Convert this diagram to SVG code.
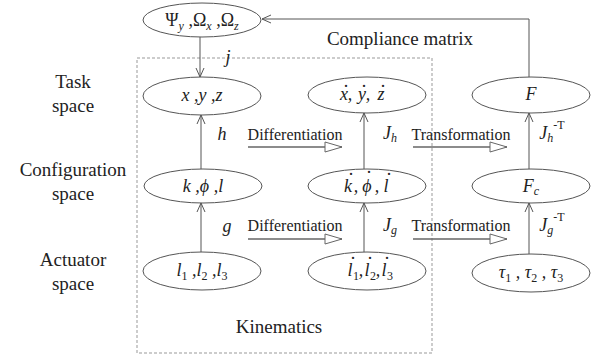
<svg xmlns="http://www.w3.org/2000/svg" width="601" height="358" viewBox="0 0 601 358">
<defs>
<marker id="v" markerUnits="userSpaceOnUse" markerWidth="12" markerHeight="12" viewBox="-1 -6 12 12" refX="9" refY="0" orient="auto">
<path d="M0,-4 L9,0 L0,4" fill="none" stroke="#555" stroke-width="1"/>
</marker>
<marker id="tri" markerUnits="userSpaceOnUse" markerWidth="20" markerHeight="14" viewBox="-1 -7 20 14" refX="17" refY="0" orient="auto">
<path d="M0,-5 L17,0 L0,5 Z" fill="#fff" stroke="#666" stroke-width="1"/>
</marker>
</defs>
<rect x="137" y="58" width="295" height="295" fill="none" stroke="#999" stroke-width="1" stroke-dasharray="3,2"/>
<text font-family="Liberation Serif" font-size="19" fill="#222" text-anchor="middle" x="73" y="88">Task</text>
<text font-family="Liberation Serif" font-size="19" fill="#222" text-anchor="middle" x="73" y="112">space</text>
<text font-family="Liberation Serif" font-size="19" fill="#222" text-anchor="middle" x="73" y="176">Configuration</text>
<text font-family="Liberation Serif" font-size="19" fill="#222" text-anchor="middle" x="73" y="200">space</text>
<text font-family="Liberation Serif" font-size="19" fill="#222" text-anchor="middle" x="73" y="266">Actuator</text>
<text font-family="Liberation Serif" font-size="19" fill="#222" text-anchor="middle" x="73" y="290">space</text>
<text font-family="Liberation Serif" font-size="19" fill="#222" text-anchor="middle" x="279" y="333">Kinematics</text>
<text font-family="Liberation Serif" font-size="19" fill="#222" text-anchor="middle" x="400" y="45">Compliance matrix</text>
<g id="connectors" fill="none" stroke="#555" stroke-width="1">
<line x1="200" y1="37" x2="200" y2="77" marker-end="url(#v)"/>
<line x1="201" y1="169" x2="201" y2="115" marker-end="url(#v)"/>
<line x1="201" y1="252" x2="201" y2="203" marker-end="url(#v)"/>
<line x1="364" y1="169" x2="364" y2="113" marker-end="url(#v)"/>
<line x1="364" y1="252" x2="364" y2="203" marker-end="url(#v)"/>
<line x1="529" y1="169" x2="529" y2="113" marker-end="url(#v)"/>
<line x1="529" y1="254" x2="529" y2="203" marker-end="url(#v)"/>
<polyline points="529,77 529,19 262,19" marker-end="url(#v)"/>
<line x1="248" y1="147" x2="342" y2="147" stroke="#666" stroke-width="1.3" marker-end="url(#tri)"/>
<line x1="413" y1="147" x2="507" y2="147" stroke="#666" stroke-width="1.3" marker-end="url(#tri)"/>
<line x1="248" y1="239" x2="342" y2="239" stroke="#666" stroke-width="1.3" marker-end="url(#tri)"/>
<line x1="413" y1="239" x2="507" y2="239" stroke="#666" stroke-width="1.3" marker-end="url(#tri)"/>
<text font-family="Liberation Serif" font-size="16" fill="#222" stroke="none" text-anchor="middle" x="295" y="140">Differentiation</text>
<text font-family="Liberation Serif" font-size="16" fill="#222" stroke="none" text-anchor="middle" x="461" y="140">Transformation</text>
<text font-family="Liberation Serif" font-size="16" fill="#222" stroke="none" text-anchor="middle" x="295" y="231">Differentiation</text>
<text font-family="Liberation Serif" font-size="16" fill="#222" stroke="none" text-anchor="middle" x="461" y="231">Transformation</text>
<text font-family="Liberation Serif" font-size="18" font-style="italic" fill="#222" stroke="none" text-anchor="middle" x="228" y="63">j</text>
<text font-family="Liberation Serif" font-size="18" font-style="italic" fill="#222" stroke="none" text-anchor="middle" x="222" y="140">h</text>
<text font-family="Liberation Serif" font-size="18" font-style="italic" fill="#222" stroke="none" text-anchor="middle" x="227" y="232">g</text>
<text font-family="Liberation Serif" font-size="18" font-style="italic" fill="#222" stroke="none" text-anchor="middle" x="390" y="139">J<tspan font-size="12" dy="3">h</tspan></text>
<text font-family="Liberation Serif" font-size="18" font-style="italic" fill="#222" stroke="none" text-anchor="middle" x="390" y="231">J<tspan font-size="12" dy="3">g</tspan></text>
<text font-family="Liberation Serif" font-size="18" font-style="italic" fill="#222" stroke="none" text-anchor="middle" x="552" y="139">J<tspan font-size="12" dy="3">h</tspan><tspan font-size="12" font-style="normal" dy="-13">-T</tspan></text>
<text font-family="Liberation Serif" font-size="18" font-style="italic" fill="#222" stroke="none" text-anchor="middle" x="552" y="231">J<tspan font-size="12" dy="3">g</tspan><tspan font-size="12" font-style="normal" dy="-13">-T</tspan></text>
</g>
<g id="n-psi"><ellipse fill="#fff" stroke="#555" cx="202" cy="20" rx="59" ry="17"/><text font-family="Liberation Serif" font-size="18" fill="#222" text-anchor="middle" x="202" y="26">Ψ<tspan font-size="12" font-style="italic" dy="4">y</tspan><tspan dy="-4"> ,Ω</tspan><tspan font-size="12" font-style="italic" dy="4">x</tspan><tspan dy="-4"> ,Ω</tspan><tspan font-size="12" font-style="italic" dy="4">z</tspan></text></g>
<g id="n-xyz"><ellipse fill="#fff" stroke="#555" cx="202" cy="96" rx="59" ry="19"/><text font-family="Liberation Serif" font-size="18" font-style="italic" fill="#222" text-anchor="middle" x="202" y="101">x ,y ,z</text></g>
<g id="n-xdot"><ellipse fill="#fff" stroke="#555" cx="367" cy="95" rx="59" ry="18"/><text font-family="Liberation Serif" font-size="18" font-style="italic" fill="#222" text-anchor="middle" y="100"><tspan x="344" y="100">x</tspan><tspan x="346" y="87" font-style="normal">.</tspan><tspan x="350" y="100">,</tspan><tspan x="362" y="100">y</tspan><tspan x="364" y="87" font-style="normal">.</tspan><tspan x="368" y="100">,</tspan><tspan x="381" y="100">z</tspan><tspan x="383" y="87" font-style="normal">.</tspan></text></g>
<g id="n-F"><ellipse fill="#fff" stroke="#555" cx="531" cy="95" rx="59" ry="18"/><text font-family="Liberation Serif" font-size="18" font-style="italic" fill="#222" text-anchor="middle" x="531" y="100">F</text></g>
<g id="n-k"><ellipse fill="#fff" stroke="#555" cx="203" cy="186" rx="59" ry="17"/><text font-family="Liberation Serif" font-size="18" font-style="italic" fill="#222" text-anchor="middle" x="203" y="192">k ,ϕ ,l</text></g>
<g id="n-kdot"><ellipse fill="#fff" stroke="#555" cx="367" cy="186" rx="59" ry="17"/><text font-family="Liberation Serif" font-size="18" font-style="italic" fill="#222" text-anchor="middle" y="192"><tspan x="348" y="192">k</tspan><tspan x="351" y="175" font-style="normal">.</tspan><tspan x="356" y="192">,</tspan><tspan x="367" y="192">ϕ</tspan><tspan x="369" y="173" font-style="normal">.</tspan><tspan x="377" y="192">,</tspan><tspan x="386" y="192">l</tspan><tspan x="389" y="175" font-style="normal">.</tspan></text></g>
<g id="n-Fc"><ellipse fill="#fff" stroke="#555" cx="531" cy="186" rx="59" ry="17"/><text font-family="Liberation Serif" font-size="18" font-style="italic" fill="#222" text-anchor="middle" x="531" y="192">F<tspan font-size="12" dy="3">c</tspan></text></g>
<g id="n-l"><ellipse fill="#fff" stroke="#555" cx="202" cy="271" rx="59" ry="19"/><text font-family="Liberation Serif" font-size="18" font-style="italic" fill="#222" text-anchor="middle" x="202" y="276">l<tspan font-size="12" font-style="normal" dy="4">1</tspan><tspan dy="-4"> ,l</tspan><tspan font-size="12" font-style="normal" dy="4">2</tspan><tspan dy="-4"> ,l</tspan><tspan font-size="12" font-style="normal" dy="4">3</tspan></text></g>
<g id="n-ldot"><ellipse fill="#fff" stroke="#555" cx="367" cy="271" rx="59" ry="19"/><text font-family="Liberation Serif" font-size="18" font-style="italic" fill="#222" text-anchor="middle" y="276"><tspan x="350" y="276">l</tspan><tspan x="353" y="259" font-style="normal">.</tspan><tspan x="356" y="280" font-size="12" font-style="normal">1</tspan><tspan x="361" y="276">,</tspan><tspan x="367" y="276">l</tspan><tspan x="370" y="259" font-style="normal">.</tspan><tspan x="373" y="280" font-size="12" font-style="normal">2</tspan><tspan x="378" y="276">,</tspan><tspan x="384" y="276">l</tspan><tspan x="387" y="259" font-style="normal">.</tspan><tspan x="390" y="280" font-size="12" font-style="normal">3</tspan></text></g>
<g id="n-tau"><ellipse fill="#fff" stroke="#555" cx="531" cy="273" rx="59" ry="19"/><text font-family="Liberation Serif" font-size="18" font-style="italic" fill="#222" text-anchor="middle" x="531" y="278">τ<tspan font-size="12" font-style="normal" dy="4">1</tspan><tspan dy="-4"> , τ</tspan><tspan font-size="12" font-style="normal" dy="4">2</tspan><tspan dy="-4"> , τ</tspan><tspan font-size="12" font-style="normal" dy="4">3</tspan></text></g>
</svg>
